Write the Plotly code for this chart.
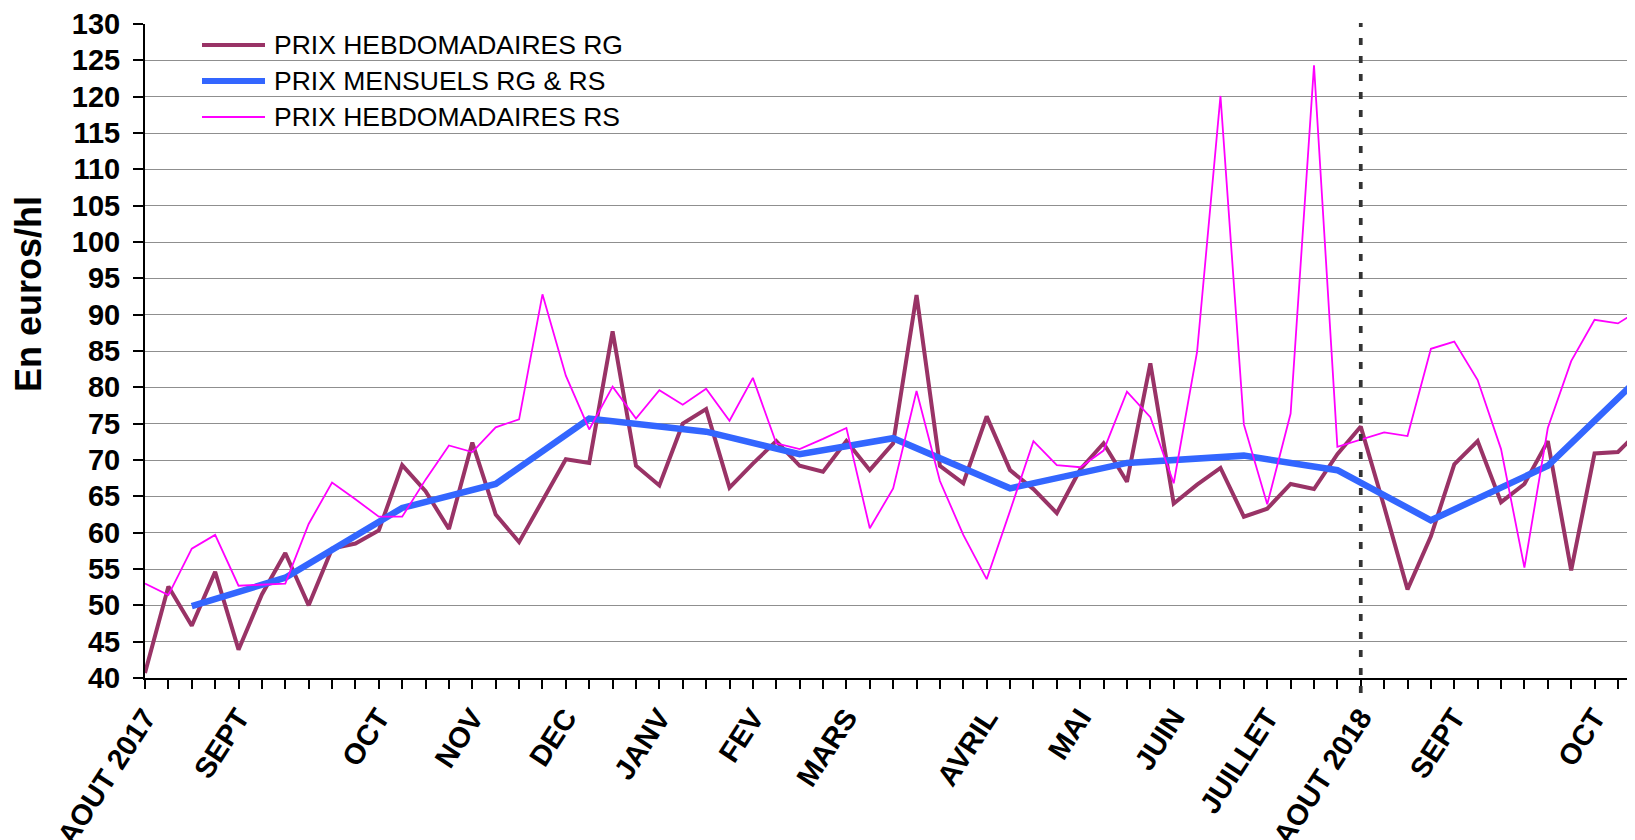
import plotly.graph_objects as go

# semaines depuis aout 2017 (index 0 = AOUT 2017)
weeks = list(range(0, 65))

rg_weekly = [40.7, 52.6, 47.2, 54.6, 43.9, 51.5, 57.2, 50.0, 57.8, 58.5,
             60.3, 69.3, 65.7, 60.5, 72.4, 62.5, 58.7, 64.3, 70.1, 69.6,
             87.7, 69.2, 66.5, 75.0, 77.0, 66.2, 69.5, 72.6, 69.2, 68.4,
             72.6, 68.6, 72.3, 92.7, 69.2, 66.8, 76.0, 68.6, 66.0, 62.7,
             68.7, 72.3, 67.0, 83.3, 64.0, 66.6, 68.9, 62.2, 63.3, 66.7,
             66.0, 70.8, 74.6, 63.6, 52.2, 59.5, 69.4, 72.6, 64.2, 66.7,
             72.6, 54.8, 70.9, 71.1, 74.3]

rs_weekly = [53.0, 51.4, 57.8, 59.7, 52.7, 52.9, 53.0, 61.2, 66.9, 64.6,
             62.2, 62.2, 67.3, 72.0, 71.1, 74.5, 75.6, 92.8, 81.6, 74.2,
             80.1, 75.7, 79.6, 77.6, 79.8, 75.4, 81.3, 72.3, 71.5, 72.9,
             74.4, 60.6, 66.1, 79.5, 67.1, 59.7, 53.6, 63.0, 72.6, 69.3,
             69.0, 71.3, 79.4, 75.9, 66.8, 84.9, 120.1, 74.9, 63.9, 76.4,
             124.3, 71.8, 72.8, 73.8, 73.3, 85.3, 86.3, 81.0, 71.5, 55.2,
             74.4, 83.6, 89.3, 88.8, 90.8]

monthly_weeks = [2, 6, 11, 15, 19, 24, 28, 32, 37, 42, 47, 51, 55, 60, 64]
monthly_vals = [49.9, 53.8, 63.4, 66.7, 75.7, 73.9, 70.8, 73.0, 66.1, 69.6,
                70.6, 68.6, 61.7, 69.2, 81.6]

month_pos = [0, 4, 10, 14, 18, 22, 26, 30, 36, 40, 44, 48, 52, 56, 62]
month_labels = ["AOUT 2017", "SEPT", "OCT", "NOV", "DEC", "JANV", "FEV", "MARS",
                "AVRIL", "MAI", "JUIN", "JUILLET", "AOUT 2018", "SEPT", "OCT"]

series_names = ["PRIX HEBDOMADAIRES RG", "PRIX MENSUELS RG & RS", "PRIX HEBDOMADAIRES RS"]
colors = ["#993366", "#3366FF", "#FF00FF"]

# la page html a une marge de 8px autour du graphique
OFF = 8
W, H = 1635 - OFF, 840 - OFF
L, R, T, B = 145 - OFF, 0, 24 - OFF, 162
PW, PH = W - L - R, H - T - B


def px(x):
    return (x - OFF - L) / PW


def py(y):
    return (H - B - (y - OFF)) / PH


tick_text = []
for w in range(0, 64):
    tick_text.append(month_labels[month_pos.index(w)] if w in month_pos else "")

font = "Liberation Sans, Arial, sans-serif"

fig = go.Figure()
fig.add_trace(go.Scatter(x=weeks, y=rg_weekly, mode="lines", name=series_names[0],
                         line=dict(color=colors[0], width=4), showlegend=False))
fig.add_trace(go.Scatter(x=monthly_weeks, y=monthly_vals, mode="lines", name=series_names[1],
                         line=dict(color=colors[1], width=6.5), showlegend=False))
fig.add_trace(go.Scatter(x=weeks, y=rs_weekly, mode="lines", name=series_names[2],
                         line=dict(color=colors[2], width=1.8), showlegend=False))

xr = [0, PW / 23.38]
fig.update_layout(
    width=W, height=H,
    margin=dict(l=L, r=R, t=T, b=B, autoexpand=False),
    paper_bgcolor="white", plot_bgcolor="white",
    font=dict(family=font, color="black"),
    xaxis=dict(range=xr, tickmode="array", tickvals=list(range(0, 64)), ticktext=tick_text,
               tickangle=-57, ticks="outside", ticklen=9, tickwidth=2, tickcolor="black",
               showline=True, linecolor="black", linewidth=2, showgrid=False, zeroline=False,
               automargin=False, tickfont=dict(size=29, weight="bold", family=font)),
    xaxis2=dict(range=xr, overlaying="x", tickmode="array", tickvals=list(range(0, 64)),
                ticks="inside", ticklen=6, tickwidth=2, tickcolor="black", automargin=False,
                showticklabels=False, showline=False, showgrid=False, zeroline=False),
    yaxis=dict(range=[40, 130], dtick=5, tick0=40, ticks="outside", ticklen=10, tickwidth=2,
               tickcolor="black", showline=True, linecolor="black", linewidth=2,
               showgrid=True, gridcolor="#8f8f8f", gridwidth=1.2, zeroline=False,
               ticklabelstandoff=7, automargin=False,
               tickfont=dict(size=29, weight="bold", family=font)),
    yaxis2=dict(range=[40, 130], dtick=5, tick0=40, overlaying="y", ticks="inside", ticklen=8,
                tickwidth=2, tickcolor="black", showticklabels=False, showline=False,
                showgrid=False, zeroline=False, automargin=False),
)

# fond blanc de la legende
fig.add_shape(type="rect", xref="paper", yref="paper", x0=px(165), x1=px(632),
              y0=py(148), y1=py(30), fillcolor="white", line=dict(width=0), layer="between")

# separation aout 2018
fig.add_shape(type="line", xref="x", yref="paper", x0=52, x1=52, y0=py(693), y1=py(23),
              line=dict(color="#333333", width=3.7, dash="7px,11px"))

key_w = [4, 6, 2]
rows = [45, 81, 117]
for name, c, lw, ry in zip(series_names, colors, key_w, rows):
    fig.add_shape(type="line", xref="paper", yref="paper", x0=px(202), x1=px(265),
                  y0=py(ry), y1=py(ry), line=dict(color=c, width=lw))
    fig.add_annotation(xref="paper", yref="paper", x=px(272), y=py(ry), text=name,
                       showarrow=False, xanchor="left", yanchor="middle",
                       font=dict(size=26.5, family=font, color="black"))

fig.add_annotation(xref="paper", yref="paper", x=px(28), y=py(294), text="En euros/hl",
                   textangle=-90, showarrow=False, xanchor="center", yanchor="middle",
                   font=dict(size=36, family=font, weight="bold", color="black"))

fig.write_html("out.html")
